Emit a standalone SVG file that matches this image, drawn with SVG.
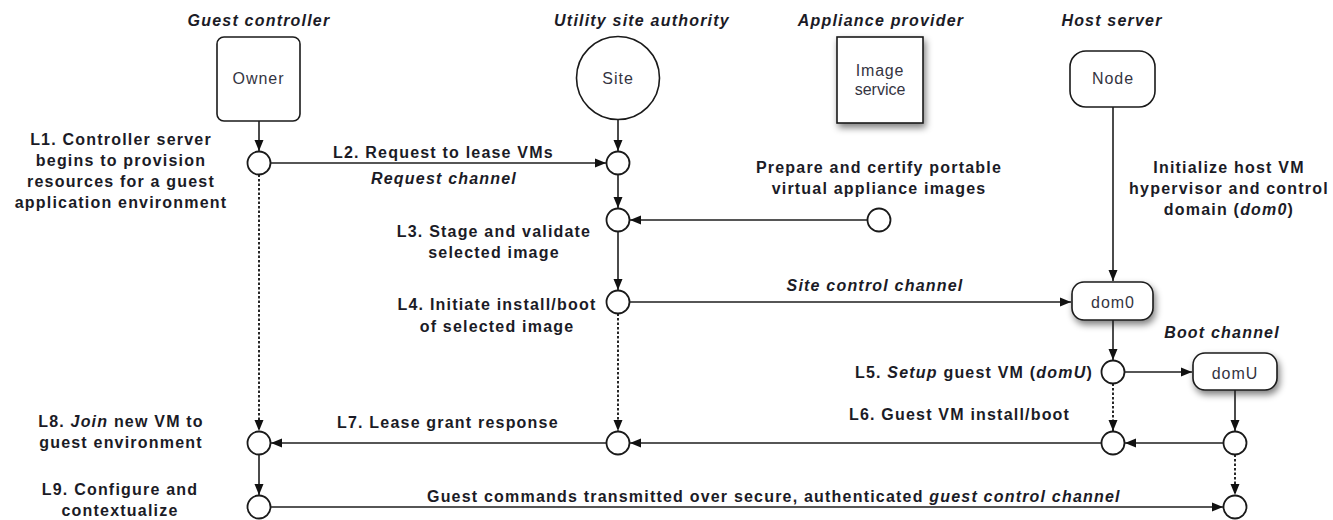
<svg xmlns="http://www.w3.org/2000/svg" width="1333" height="520" viewBox="0 0 1333 520">
  <style>
    text { font-family: "Liberation Sans", Arial, sans-serif; fill: #1b1b26; letter-spacing: 1.2px; }
    .lbl { font-size: 16px; font-weight: bold; }
    .ttl { font-size: 16px; font-weight: bold; font-style: italic; }
    .it { font-style: italic; }
    .node-text { font-size: 16px; fill: #34343f; letter-spacing: 1px; }
    .mid { text-anchor: middle; }
    .end { text-anchor: end; }
    .shape { fill: #ffffff; stroke: #1a1a1a; stroke-width: 1.6; }
    .pt { fill: #ffffff; stroke: #1a1a1a; stroke-width: 1.8; }
    .conn { fill: none; stroke: #1e1e1e; stroke-width: 1.6; marker-end: url(#arrow); }
    .dot { stroke: #111111; stroke-width: 1.8; stroke-dasharray: 2.5 2; }
  </style>
  <defs>
    <marker id="arrow" markerUnits="userSpaceOnUse" markerWidth="12" markerHeight="10" refX="11" refY="5" orient="auto">
      <path d="M0,0.5 L11,5 L0,9.5 Z" fill="#111111"/>
    </marker>
    <filter id="shadow" x="-25%" y="-25%" width="160%" height="170%">
      <feGaussianBlur in="SourceAlpha" stdDeviation="3.5"/>
      <feOffset dx="2" dy="4" result="b"/>
      <feComponentTransfer><feFuncA type="linear" slope="0.5"/></feComponentTransfer>
      <feMerge><feMergeNode/><feMergeNode in="SourceGraphic"/></feMerge>
    </filter>
  </defs>

  <rect width="1333" height="520" fill="#ffffff"/>

  <!-- Column headings -->
  <g id="headings">
    <text class="ttl mid" x="259" y="26">Guest controller</text>
    <text class="ttl mid" x="642" y="26">Utility site authority</text>
    <text class="ttl mid" x="881" y="26">Appliance provider</text>
    <text class="ttl mid" x="1112" y="26">Host server</text>
  </g>

  <!-- Actors -->
  <g id="owner">
    <rect class="shape" x="217" y="37" width="83" height="84" rx="7"/>
    <text class="node-text mid" x="258.5" y="84">Owner</text>
  </g>
  <g id="site">
    <circle class="shape" cx="618" cy="78" r="41.5"/>
    <text class="node-text mid" x="618" y="84">Site</text>
  </g>
  <g id="image-service">
    <rect class="shape" x="837" y="37" width="86" height="86" filter="url(#shadow)"/>
    <text class="node-text mid" style="letter-spacing:0.8px" x="880" y="76">Image</text>
    <text class="node-text mid" style="letter-spacing:0px" x="880" y="95">service</text>
  </g>
  <g id="node">
    <rect class="shape" x="1070" y="51" width="85" height="56" rx="16"/>
    <text class="node-text mid" x="1113" y="84">Node</text>
  </g>
  <g id="dom0">
    <rect class="shape" x="1072" y="282" width="81" height="38" rx="12" filter="url(#shadow)"/>
    <text class="node-text mid" x="1113" y="308">dom0</text>
  </g>
  <g id="domU">
    <rect class="shape" x="1193" y="353" width="84" height="37" rx="12" filter="url(#shadow)"/>
    <text class="node-text mid" x="1235" y="379">domU</text>
  </g>

  <!-- Step points -->
  <g id="points">
    <circle class="pt" cx="259" cy="163" r="11.5"/>
    <circle class="pt" cx="259" cy="443" r="11.5"/>
    <circle class="pt" cx="259" cy="507" r="11.5"/>
    <circle class="pt" cx="618" cy="163" r="11.5"/>
    <circle class="pt" cx="618" cy="220" r="11.5"/>
    <circle class="pt" cx="618" cy="302" r="11.5"/>
    <circle class="pt" cx="618" cy="443" r="11.5"/>
    <circle class="pt" cx="879" cy="220" r="11.5"/>
    <circle class="pt" cx="1113" cy="372" r="11.5"/>
    <circle class="pt" cx="1113" cy="443" r="11.5"/>
    <circle class="pt" cx="1235" cy="443" r="11.5"/>
    <circle class="pt" cx="1235" cy="507" r="11.5"/>
  </g>

  <!-- Connectors -->
  <g id="connectors">
    <path class="conn" d="M259,121 L259,151"/>
    <path class="conn" d="M618,119.5 L618,151"/>
    <path class="conn" d="M270.5,163 L606,163"/>
    <path class="conn" d="M618,174.5 L618,208"/>
    <path class="conn" d="M867.5,220 L630,220"/>
    <path class="conn" d="M618,231.5 L618,290"/>
    <path class="conn" d="M629.5,302 L1071,302"/>
    <path class="conn" d="M1113,107 L1113,281"/>
    <path class="conn" d="M1113,320 L1113,360"/>
    <path class="conn" d="M1124.5,372 L1192,372"/>
    <path class="conn dot" d="M1113,383.5 L1113,431"/>
    <path class="conn" d="M1235,390 L1235,431"/>
    <path class="conn" d="M1223.5,443 L1125,443"/>
    <path class="conn" d="M1101.5,443 L630,443"/>
    <path class="conn dot" d="M618,313.5 L618,431"/>
    <path class="conn" d="M606.5,443 L271,443"/>
    <path class="conn dot" d="M259,174.5 L259,431"/>
    <path class="conn" d="M259,454.5 L259,495"/>
    <path class="conn dot" d="M1235,454.5 L1235,495"/>
    <path class="conn" d="M270.5,507 L1223,507"/>
  </g>

  <!-- Step and channel labels -->
  <g id="labels">
    <text class="lbl mid" x="121" y="145">L1. Controller server</text>
    <text class="lbl mid" x="121" y="166">begins to provision</text>
    <text class="lbl mid" x="121" y="187">resources for a guest</text>
    <text class="lbl mid" x="121" y="208">application environment</text>

    <text class="lbl" x="333" y="158">L2. Request to lease VMs</text>
    <text class="ttl mid" x="444" y="184">Request channel</text>

    <text class="lbl mid" x="494" y="237">L3. Stage and validate</text>
    <text class="lbl mid" x="494" y="258">selected image</text>

    <text class="lbl mid" x="497" y="310">L4. Initiate install/boot</text>
    <text class="lbl mid" x="497" y="332">of selected image</text>

    <text class="ttl mid" x="875" y="291">Site control channel</text>

    <text class="lbl mid" x="879" y="173">Prepare and certify portable</text>
    <text class="lbl mid" x="879" y="194">virtual appliance images</text>

    <text class="lbl mid" x="1229" y="173">Initialize host VM</text>
    <text class="lbl mid" x="1229" y="194">hypervisor and control</text>
    <text class="lbl mid" x="1229" y="215">domain (<tspan class="it">dom0</tspan>)</text>

    <text class="ttl mid" x="1222" y="338">Boot channel</text>

    <text class="lbl end" x="1093" y="378">L5. <tspan class="it">Setup</tspan> guest VM (<tspan class="it">domU</tspan>)</text>
    <text class="lbl" x="849" y="420">L6. Guest VM install/boot</text>

    <text class="lbl" x="337" y="428">L7. Lease grant response</text>

    <text class="lbl mid" x="121" y="427">L8. <tspan class="it">Join</tspan> new VM to</text>
    <text class="lbl mid" x="121" y="448">guest environment</text>

    <text class="lbl mid" x="120" y="495">L9. Configure and</text>
    <text class="lbl mid" x="120" y="516">contextualize</text>

    <text class="lbl" x="427" y="502">Guest commands transmitted over secure, authenticated <tspan class="it">guest control channel</tspan></text>
  </g>
</svg>
